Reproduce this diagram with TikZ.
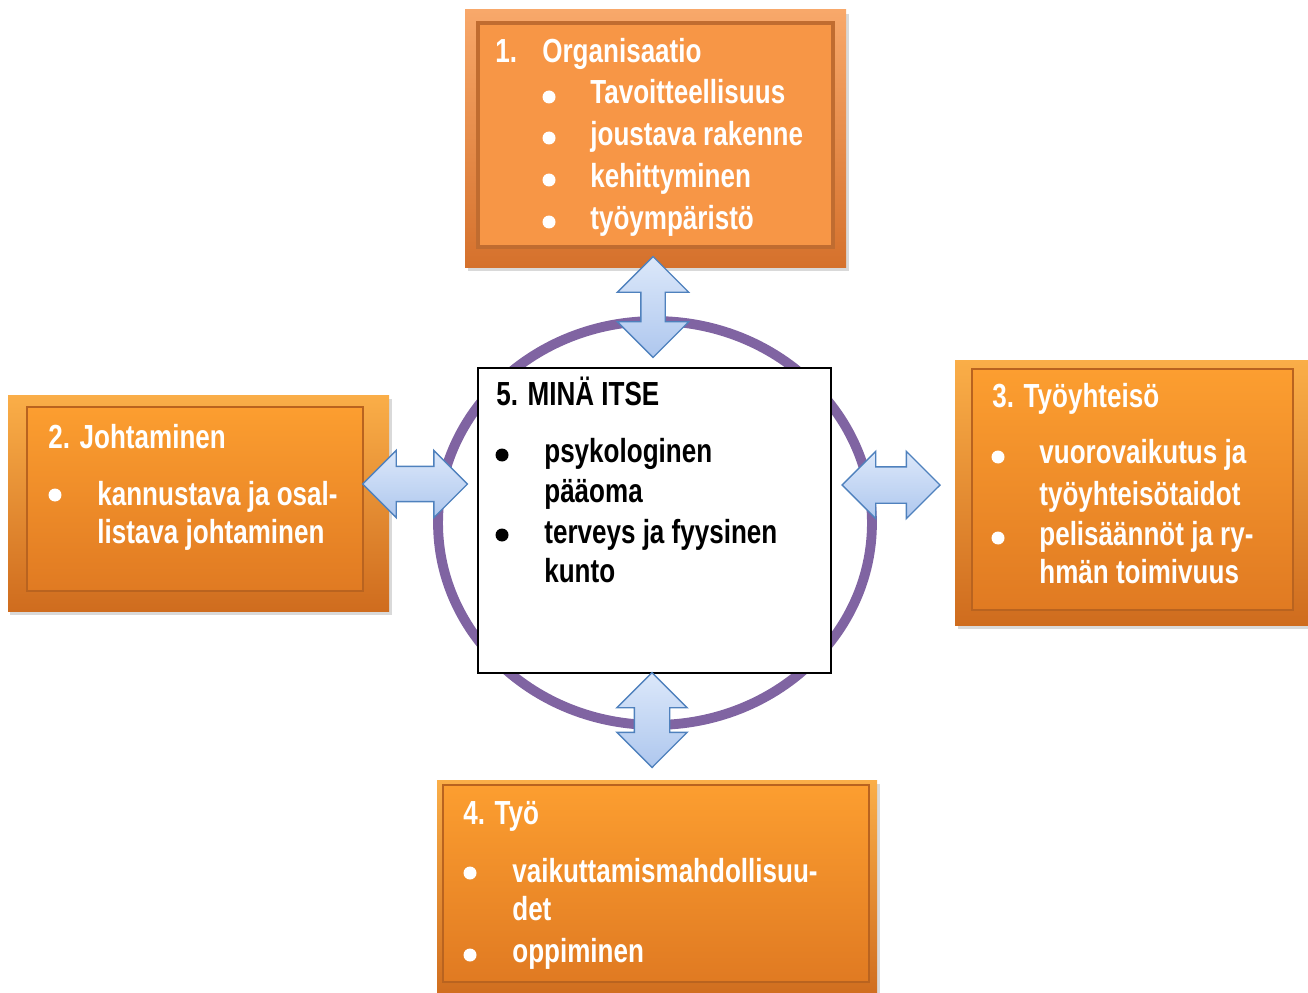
\documentclass[tikz,border=0pt]{standalone}
\usepackage{fontspec}
\setmainfont{Liberation Sans}[FakeStretch=0.78]
\usetikzlibrary{shapes.arrows, shapes.geometric, fit, shadows}

\definecolor{ringpurple}{HTML}{8064A2}
\definecolor{arrowline}{HTML}{4F81BD}
\definecolor{arrowlight}{HTML}{DCE8FA}
\definecolor{arrowdark}{HTML}{AEC7EE}
\definecolor{framelight}{HTML}{FAAE48}
\definecolor{framedark}{HTML}{CF6C1E}
\definecolor{panellight}{HTML}{FC9E30}
\definecolor{paneldark}{HTML}{E07A22}
\definecolor{panelline}{HTML}{B9631F}
\definecolor{orgframetop}{HTML}{F8A86A}
\definecolor{orgframebot}{HTML}{D5712C}
\definecolor{orgfill}{HTML}{F79646}
\definecolor{orgline}{HTML}{C06C30}

\begin{document}
\begin{tikzpicture}[x=0.02cm, y=-0.02cm,
    every node/.style={font=\fontsize{19}{23}\selectfont\bfseries},
    outerbox/.style={inner sep=0pt, top color=framelight, bottom color=framedark,
        drop shadow={shadow xshift=0.05cm, shadow yshift=-0.08cm, opacity=0.3}},
    innerbox/.style={inner sep=0pt, top color=panellight, bottom color=paneldark,
        draw=panelline, line width=1.2pt},
    txt/.style={anchor=base west, inner sep=0pt, text=white},
    dot/.style={circle, fill=white, inner sep=0pt, minimum size=0.26cm},
    link/.style={double arrow, draw=arrowline, line width=0.8pt, inner xsep=0pt,
        top color=arrowlight, bottom color=arrowdark}]

    \useasboundingbox (0,0) rectangle (1308,993);

    % Ring round the centre
    \node[ellipse, draw=ringpurple, line width=5.6pt, minimum width=8.68cm,
        minimum height=8.08cm] (ring) at (655,523) {};

    % 5. Mina itse
    \node[draw=black, fill=white, line width=0.6pt, inner sep=0pt,
        fit={(478,368) (831,673)}] (me) {};
    \node[txt, text=black] (me0) at (496,405) {5. MINÄ ITSE};
    \node[dot, fill=black] (meb1) at (502,455) {};
    \node[txt, text=black] (me1) at (544,462) {psykologinen};
    \node[txt, text=black] (me2) at (544,502) {pääoma};
    \node[dot, fill=black] (meb2) at (502,535) {};
    \node[txt, text=black] (me3) at (544,543) {terveys ja fyysinen};
    \node[txt, text=black] (me4) at (544,582) {kunto};

    % 1. Organisaatio
    \node[outerbox, top color=orgframetop, bottom color=orgframebot,
        fit={(465,10) (846,267)}] (org) {};
    \node[innerbox, top color=orgfill, bottom color=orgfill, draw=orgline,
        line width=2pt, fit={(478,23) (833,247)}] (orgin) {};
    \node[txt] (org0) at (495,63) {1.};
    \node[txt] (org1) at (542,63) {Organisaatio};
    \node[dot] (orgb1) at (549,97) {};
    \node[txt] (org2) at (590,104) {Tavoitteellisuus};
    \node[dot] (orgb2) at (549,138) {};
    \node[txt] (org3) at (590,146) {joustava rakenne};
    \node[dot] (orgb3) at (549,180) {};
    \node[txt] (org4) at (590,188) {kehittyminen};
    \node[dot] (orgb4) at (549,222) {};
    \node[txt] (org5) at (590,230) {työympäristö};

    % 2. Johtaminen
    \node[outerbox, fit={(8,395) (389,611)}] (lead) {};
    \node[innerbox, fit={(27,407) (363,591)}] (leadin) {};
    \node[txt] (lead0) at (48,448) {2. Johtaminen};
    \node[dot] (leadb1) at (55,495) {};
    \node[txt] (lead1) at (97,505) {kannustava ja osal-};
    \node[txt] (lead2) at (97,543) {listava johtaminen};

    % 3. Tyoyhteiso
    \node[outerbox, fit={(955,360) (1308,625)}] (team) {};
    \node[innerbox, fit={(972,369) (1293,610)}] (teamin) {};
    \node[txt] (team0) at (992,407) {3. Työyhteisö};
    \node[dot] (teamb1) at (998,457) {};
    \node[txt] (team1) at (1039,463) {vuorovaikutus ja};
    \node[txt] (team2) at (1039,505) {työyhteisötaidot};
    \node[dot] (teamb2) at (998,538) {};
    \node[txt] (team3) at (1039,545) {pelisäännöt ja ry-};
    \node[txt] (team4) at (1039,583) {hmän toimivuus};

    % 4. Tyo
    \node[outerbox, fit={(437,780) (877,1000)}] (work) {};
    \node[innerbox, fit={(443,785) (869,982)}] (workin) {};
    \node[txt] (work0) at (463,824) {4. Työ};
    \node[dot] (workb1) at (470,873) {};
    \node[txt] (work1) at (512,882) {vaikuttamismahdollisuu-};
    \node[txt] (work2) at (512,920) {det};
    \node[dot] (workb2) at (470,955) {};
    \node[txt] (work3) at (512,962) {oppiminen};

    % double arrows between the boxes and the centre
    \node[link, rotate=90, minimum height=2.02cm, inner ysep=0.23cm,
        double arrow head extend=0.47cm] (up) at (653,307) {};
    \node[link, rotate=90, minimum height=1.9cm, inner ysep=0.34cm,
        double arrow head extend=0.35cm] (down) at (652,720) {};
    \node[link, minimum height=2.1cm, inner ysep=0.34cm,
        double arrow head extend=0.32cm] (left) at (415,484) {};
    \node[link, minimum height=1.96cm, inner ysep=0.35cm,
        double arrow head extend=0.31cm] (right) at (891,485) {};

\end{tikzpicture}
\end{document}
